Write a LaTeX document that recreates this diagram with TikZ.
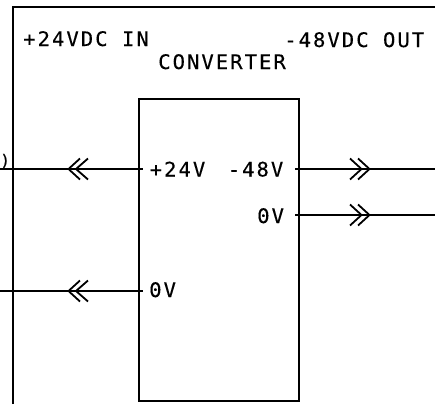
\documentclass[tikz,border=0pt]{standalone}
\usepackage{fontspec}
\setmainfont[FakeStretch=1.03,LetterSpace=10,FakeBold=0.3]{DejaVu Sans Mono}
\tikzset{
  wire/.style={line width=2pt,line cap=butt},
  chev/.style={line width=1.8pt,line cap=butt},
  lbl/.style={inner sep=0pt,anchor=base west,font=\fontsize{20}{24}\selectfont},
}
\begin{document}
\begin{tikzpicture}[x=1pt,y=-1pt]
\useasboundingbox (0,0) rectangle (435,404);
\clip (0,0) rectangle (435,404);
\fill[white] (0,0) rectangle (435,404);
% frame
\coordinate (fb) at (13,404);
\coordinate (fc) at (13,7);
\coordinate (fr) at (435,7);
\draw[wire] (fb) -- (fc) -- (fr);
% converter box
\node[draw,wire,outer sep=0pt,minimum width=160pt,minimum height=302pt,inner sep=0pt,anchor=center] (box) at (218.75,250) {};
% wires
\coordinate (l1) at (0,169); \coordinate (b1) at (143,169);
\coordinate (l2) at (0,291); \coordinate (b2) at (143,291);
\coordinate (r1) at (295,169); \coordinate (e1) at (435,169);
\coordinate (r2) at (295,215); \coordinate (e2) at (435,215);
\draw[wire] (l1) -- (b1);
\draw[wire] (l2) -- (b2);
\draw[wire] (r1) -- (e1);
\draw[wire] (r2) -- (e2);
% chevrons
\foreach \y in {169,291}{
  \draw[chev] (80,\y-10.5) -- (68.5,\y) -- (80,\y+10.5);
  \draw[chev] (88,\y-10.5) -- (76,\y) -- (88,\y+10.5);
}
\foreach \y in {169,215}{
  \draw[chev] (350,\y-10.5) -- (361.5,\y) -- (350,\y+10.5);
  \draw[chev] (358,\y-10.5) -- (369.5,\y) -- (358,\y+10.5);
}
% labels
\node[lbl] (t1) at (23,46) {+24VDC IN};
\node[lbl] (t2) at (284,47) {-48VDC OUT};
\node[lbl] (t3) at (158,69) {CONVERTER};
\node[lbl] (t4) at (149.5,176.5) {+24V};
\node[lbl] (t5) at (227.5,176.5) {-48V};
\node[lbl] (t6) at (257,223) {0V};
\node[lbl] (t7) at (149,297) {0V};
\node[lbl,font=\fontsize{16}{18}\selectfont] (t8) at (0,166) {)};
\end{tikzpicture}
\end{document}
